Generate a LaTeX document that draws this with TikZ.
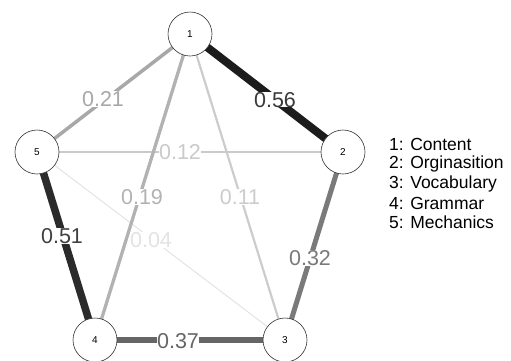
\documentclass[tikz,border=0pt]{standalone}
\usepackage{fontspec}
\setmainfont{Liberation Sans}
\begin{document}
\begin{tikzpicture}[x=1pt,y=-1pt,
  vert/.style={circle,draw=black!80,fill=white,line width=0.6pt,minimum size=44pt,inner sep=0pt,font=\fontsize{10}{11}\selectfont},
  elab/.style={fill=white,inner xsep=0.5pt,inner ysep=0pt,text height=15.5pt,text depth=0pt,font=\fontsize{21.5}{24}\selectfont},
  leg/.style={anchor=west,inner sep=0pt,font=\fontsize{17.5}{19}\selectfont}]
\useasboundingbox (0,0) rectangle (511,360);
\definecolor{e12}{HTML}{1C1C1C}
\definecolor{e45}{HTML}{2B2B2B}
\definecolor{e34}{HTML}{666666}
\definecolor{e23}{HTML}{7A7A7A}
\definecolor{e15}{HTML}{A8A8A8}
\definecolor{e14}{HTML}{B2B2B2}
\definecolor{e25}{HTML}{CACACA}
\definecolor{e13}{HTML}{CCCCCC}
\definecolor{e35}{HTML}{E3E3E3}
\definecolor{t12}{HTML}{3A3A3A}
\definecolor{t45}{HTML}{404040}
\coordinate (p1) at (190,34);
\coordinate (p2) at (343,152);
\coordinate (p3) at (285,340);
\coordinate (p4) at (95,340);
\coordinate (p5) at (37,152);
% edges
\draw[e35,line width=1pt] (p5) -- (p3);
\draw[e13,line width=2.2pt] (p1) -- (p3);
\draw[e25,line width=2.2pt] (p5) -- (p2);
\draw[e14,line width=3.3pt] (p1) -- (p4);
\draw[e15,line width=3.5pt] (p1) -- (p5);
\draw[e23,line width=5pt] (p2) -- (p3);
\draw[e34,line width=5.5pt] (p4) -- (p3);
\draw[e45,line width=7.5pt] (p4) -- (p5);
\draw[e12,line width=8pt] (p1) -- (p2);
% labels
\node[elab,text=e35] (l35) at (151,240) {0.04};
\node[elab,text=e13] (l13) at (240,197) {0.11};
\node[elab,text=e25] (l25) at (180,152) {0.12};
\node[elab,text=e14] (l14) at (142,197) {0.19};
\node[elab,text=e15] (l15) at (103,99) {0.21};
\node[elab,text=e23] (l23) at (310,258) {0.32};
\node[elab,text=e34] (l34) at (178,341) {0.37};
\node[elab,text=t45] (l45) at (62,236) {0.51};
\node[elab,text=t12] (l12) at (275,99.5) {0.56};
% vertices
\node[vert] (n1) at (p1) {1};
\node[vert] (n2) at (p2) {2};
\node[vert] (n3) at (p3) {3};
\node[vert] (n4) at (p4) {4};
\node[vert] (n5) at (p5) {5};
% legend
\node[leg] (g1) at (389,144.5) {1: Content};
\node[leg] (g2) at (389,164) {2: Orginasition};
\node[leg] (g3) at (389,183.5) {3: Vocabulary};
\node[leg] (g4) at (389,203) {4: Grammar};
\node[leg] (g5) at (389,222.5) {5: Mechanics};
\end{tikzpicture}
\end{document}
